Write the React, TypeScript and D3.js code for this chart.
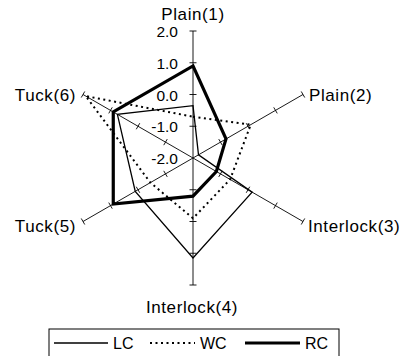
import React from 'react';
import * as d3 from 'd3';

const axes = ['Plain(1)', 'Plain(2)', 'Interlock(3)', 'Interlock(4)', 'Tuck(5)', 'Tuck(6)'];
const lcValues = [-0.35, -1.8, 0.15, 1.15, 0.1, 0.75];
const wcValues = [-0.7, 0.1, -0.65, -0.1, -0.45, 1.9];
const rcValues = [0.9, -0.8, -1.15, -0.8, 0.9, 0.9];
const tickValues = [-2, -1, 0, 1, 2];
const tickLabels = ['-2.0', '-1.0', '0.0', '1.0', '2.0'];
const legendLabels = ['LC', 'WC', 'RC'];

const W = 408, H = 356;
const cx = 193, cy = 158, R = 127;

export default function App() {
  const r = d3.scaleLinear().domain([-2, 2]).range([0, R]);
  const ang = (i: number) => (i * 2 * Math.PI) / axes.length;
  const pt = (i: number, v: number) => [cx + r(v) * Math.sin(ang(i)), cy - r(v) * Math.cos(ang(i))];

  const line = d3
    .lineRadial<number>()
    .angle((_, i) => ang(i))
    .radius((d) => r(d))
    .curve(d3.curveLinearClosed);

  const series = [
    { name: legendLabels[0], values: lcValues, width: 1.3, dash: undefined as string | undefined },
    { name: legendLabels[1], values: wcValues, width: 2, dash: '2 3.5' },
    { name: legendLabels[2], values: rcValues, width: 3.2, dash: undefined as string | undefined },
  ];

  const labelLayout = [
    { dx: 0, dy: -11, anchor: 'middle' },
    { dx: 6, dy: 6, anchor: 'start' },
    { dx: 5, dy: 10.5, anchor: 'start' },
    { dx: -1, dy: 28, anchor: 'middle' },
    { dx: -7, dy: 10.5, anchor: 'end' },
    { dx: -7, dy: 6, anchor: 'end' },
  ];

  const font = "'Liberation Sans', Arial, sans-serif";

  return (
    <svg width={W} height={H} style={{ position: 'absolute', left: 0, top: 0, background: '#fff' }}>
      <rect x={0} y={0} width={W} height={H} fill="#fff" />
      {/* spokes */}
      {axes.map((a, i) => {
        const [x2, y2] = pt(i, 2);
        const s = Math.sin(ang(i)), c = Math.cos(ang(i));
        // perpendicular unit vector
        const px = c, py = s;
        return (
          <g key={a}>
            <line x1={cx} y1={cy} x2={x2} y2={y2} stroke="#000" strokeWidth={0.9} />
            {tickValues.slice(1).map((tv) => {
              const [tx, ty] = pt(i, tv);
              const L = 3.5;
              return (
                <line key={tv} x1={tx - px * L} y1={ty - py * L} x2={tx + px * L} y2={ty + py * L} stroke="#000" strokeWidth={0.9} />
              );
            })}
            <text
              x={x2 + labelLayout[i].dx}
              y={y2 + labelLayout[i].dy}
              textAnchor={labelLayout[i].anchor as any}
              fontFamily={font}
              fontSize={17}
              letterSpacing={0.6}
              fill="#000"
            >
              {a}
            </text>
          </g>
        );
      })}
      {/* tick labels */}
      {tickValues.map((tv, k) => (
        <text key={tv} x={178} y={cy - r(tv) + 6} textAnchor="end" fontFamily={font} fontSize={15.5} fill="#000">
          {tickLabels[k]}
        </text>
      ))}
      {/* series */}
      {series.map((s) => (
        <path
          key={s.name}
          d={line(s.values) as string}
          transform={`translate(${cx},${cy})`}
          fill="none"
          stroke="#000"
          strokeWidth={s.width}
          strokeDasharray={s.dash}
          strokeLinejoin="miter"
        />
      ))}
      {/* legend */}
      <rect x={49} y={329} width={290} height={40} fill="#fff" stroke="#000" strokeWidth={1} />
      {series.map((s, k) => {
        const x0 = [54, 150, 245][k];
        const len = [54, 45, 55][k];
        return (
          <g key={s.name}>
            <line x1={x0} y1={343} x2={x0 + len} y2={343} stroke="#000" strokeWidth={s.width} strokeDasharray={s.dash} />
            <text x={x0 + len + 5} y={349} fontFamily={font} fontSize={16} fill="#000">
              {s.name}
            </text>
          </g>
        );
      })}
    </svg>
  );
}
